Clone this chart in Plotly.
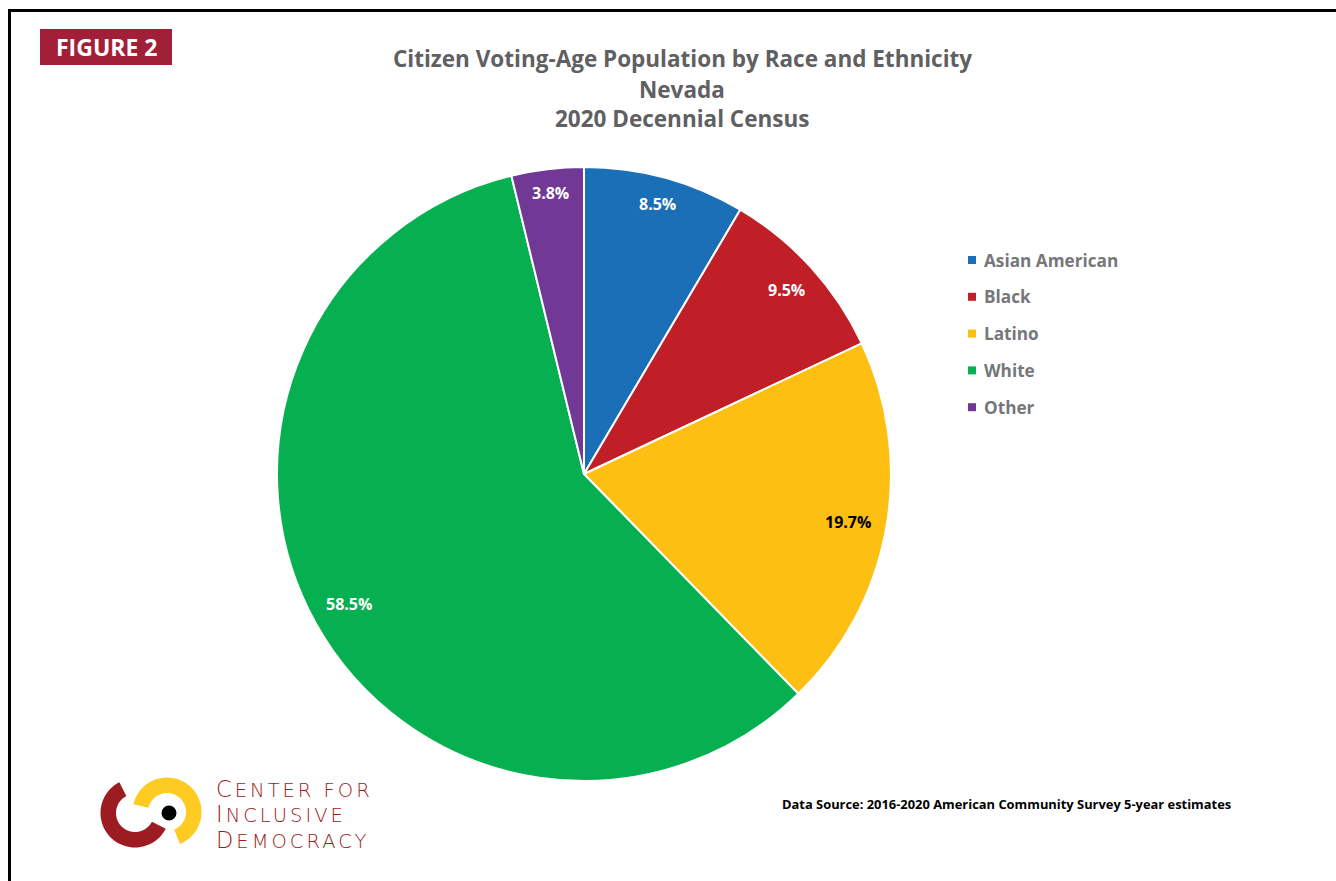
import math
import plotly.graph_objects as go

# Citizen voting-age population shares, Nevada
categories = ["Asian American", "Black", "Latino", "White", "Other"]
shares = [8.5, 9.5, 19.7, 58.5, 3.8]
slice_colors = ["#1b6fb7", "#c01f28", "#fcbf12", "#06b050", "#723896"]
label_colors = ["white", "white", "black", "white", "white"]

title_lines = [
    "Citizen Voting-Age Population by Race and Ethnicity",
    "Nevada",
    "2020 Decennial Census",
]
source_note = "Data Source: 2016-2020 American Community Survey 5-year estimates"
logo_words = ["CENTER FOR", "INCLUSIVE", "DEMOCRACY"]

W, H = 1336, 881
FONT = "Open Sans"


def px(x):
    return x / W


def py(y):
    return 1 - y / H


# pie geometry in pixels
CX, CY, R = 584, 474, 307

fig = go.Figure()
fig.add_trace(go.Pie(
    labels=categories,
    values=shares,
    sort=False,
    direction="clockwise",
    rotation=0,
    marker=dict(colors=slice_colors, line=dict(color="white", width=2)),
    textinfo="none",
    hoverinfo="label+percent",
    showlegend=False,
    domain=dict(x=[px(CX - R), px(CX + R)], y=[py(CY + R), py(CY - R)]),
))

annotations = []
shapes = []

# percentage labels placed near the outer edge of each slice
total = sum(shares)
cum = 0.0
LABEL_FS = 16
for val, col in zip(shares, label_colors):
    mid = (cum + val / 2) / total
    cum += val
    ang = 2 * math.pi * mid
    ux, uy = math.sin(ang), math.cos(ang)
    txt = f"{val:.1f}%"
    half_w = 0.29 * LABEL_FS * len(txt)
    half_h = 8
    dist = R - 14 - (half_w * abs(ux) + half_h * abs(uy))
    annotations.append(dict(
        x=px(CX + dist * ux), y=py(CY - dist * uy), xref="paper", yref="paper",
        text=f"<b>{txt}</b>", showarrow=False, xanchor="center", yanchor="middle",
        font=dict(family=FONT, size=LABEL_FS, color=col),
    ))

# title
for i, line in enumerate(title_lines):
    annotations.append(dict(
        x=px(682), y=py(59 + 30 * i), xref="paper", yref="paper",
        text=f"<b>{line}</b>", showarrow=False, xanchor="center", yanchor="middle",
        font=dict(family=FONT, size=22.5, color="#5f6062"),
    ))

# legend
for i, (name, col) in enumerate(zip(categories, slice_colors)):
    yc = 260 + 36.8 * i
    shapes.append(dict(
        type="rect", xref="paper", yref="paper",
        x0=px(968), x1=px(976), y0=py(yc + 4), y1=py(yc - 4),
        fillcolor=col, line=dict(width=0),
    ))
    annotations.append(dict(
        x=px(982), y=py(yc), xref="paper", yref="paper",
        text=f"<b>{name}</b>", showarrow=False, xanchor="left", yanchor="middle",
        font=dict(family=FONT, size=17.2, color="#76777a"),
    ))

# source note
annotations.append(dict(
    x=px(780), y=py(804), xref="paper", yref="paper",
    text=f"<b>{source_note}</b>", showarrow=False, xanchor="left", yanchor="middle",
    font=dict(family=FONT, size=12.9, color="black"),
))

# "FIGURE 2" tag
shapes.append(dict(
    type="rect", xref="paper", yref="paper",
    x0=px(40), x1=px(172), y0=py(65), y1=py(29),
    fillcolor="#a21f38", line=dict(width=0),
))
annotations.append(dict(
    x=px(106), y=py(47), xref="paper", yref="paper",
    text="<b>FIGURE 2</b>", showarrow=False, xanchor="center", yanchor="middle",
    font=dict(family=FONT, size=23, color="white"),
))

# page frame (top and left rules)
shapes.append(dict(
    type="line", xref="paper", yref="paper",
    x0=px(8), x1=px(W + 5), y0=py(10.5), y1=py(10.5),
    line=dict(color="black", width=3),
))
shapes.append(dict(
    type="line", xref="paper", yref="paper",
    x0=px(9.5), x1=px(9.5), y0=py(9), y1=py(H + 5),
    line=dict(color="black", width=3),
))


# logo: two interlocking arcs and a dot
def ring_path(cx, cy, r_in, r_out, a0, a1, n=48):
    pts = []
    for k in range(n + 1):
        a = math.radians(a0 + (a1 - a0) * k / n)
        pts.append((cx + r_out * math.cos(a), cy - r_out * math.sin(a)))
    for k in range(n + 1):
        a = math.radians(a1 + (a0 - a1) * k / n)
        pts.append((cx + r_in * math.cos(a), cy - r_in * math.sin(a)))
    return "M" + " L".join(f"{px(x):.5f},{py(y):.5f}" for x, y in pts) + " Z"


shapes.append(dict(
    type="path", xref="paper", yref="paper",
    path=ring_path(135, 813, 19, 34.5, 117, 333),
    fillcolor="#9c1c21", line=dict(width=0),
))
shapes.append(dict(
    type="path", xref="paper", yref="paper",
    path=ring_path(167, 812, 19, 34.5, 167, -68),
    fillcolor="#fdcb22", line=dict(width=0),
))
shapes.append(dict(
    type="circle", xref="paper", yref="paper",
    x0=px(161.5), x1=px(176.5), y0=py(820.5), y1=py(805.5),
    fillcolor="black", line=dict(width=0),
))

# logo wordmark in spaced small caps: larger initial, smaller remaining letters
wordmark = "<br>".join(
    f"<span style='font-size:22.5px;letter-spacing:3px'>{w[0]}</span>"
    f"<span style='font-size:19.5px;letter-spacing:3px'>{w[1:]}</span>"
    for w in logo_words
)
annotations.append(dict(
    x=px(214), y=py(814), xref="paper", yref="paper",
    text=wordmark, showarrow=False, xanchor="left", yanchor="middle", align="left",
    font=dict(family="DejaVu Sans", size=19.6, color="#9c1c21", weight=200),
))

fig.update_layout(
    width=W, height=H,
    margin=dict(l=0, r=0, t=0, b=0),
    paper_bgcolor="white",
    plot_bgcolor="white",
    annotations=annotations,
    shapes=shapes,
    showlegend=False,
)

fig.write_html("out.html")
